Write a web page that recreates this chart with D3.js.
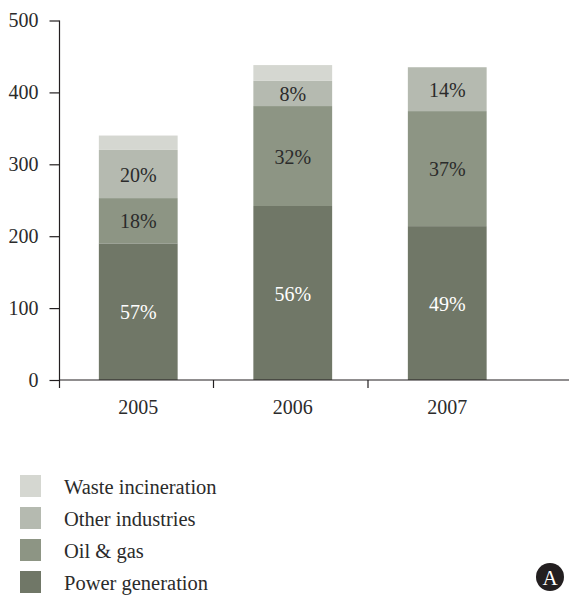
<!DOCTYPE html>
<html>
<head>
<meta charset="utf-8">
<script src="https://cdn.jsdelivr.net/npm/d3@7"></script>
<style>
  body { margin: 0; background: #fff; }
  svg text { font-family: "Liberation Serif", "DejaVu Serif", serif; fill: #2b2b2b; }
  .axis path, .axis line { stroke: #231f20; stroke-width: 1.2; }
</style>
</head>
<body>
<svg id="chart" width="569" height="597"></svg>
<script>
// data (Mt, stacked bottom to top)
const years = ['2005', '2006', '2007'];
const sectors = ['Power generation', 'Oil & gas', 'Other industries', 'Waste incineration'];
const powerGen = [190, 242, 214];
const oilGas = [63, 139, 160];
const otherInd = [67, 35, 61];
const wasteInc = [20, 22, 0];
const shareLabels = [
  ['57%', '56%', '49%'],
  ['18%', '32%', '37%'],
  ['20%', '8%', '14%'],
  ['', '', '']
];
const yTicks = [0, 100, 200, 300, 400, 500];
const colors = ['#707767', '#8d9584', '#b5bab0', '#d5d7d1'];

const series = [powerGen, oilGas, otherInd, wasteInc];
const table = years.map((y, i) => {
  const row = {year: y};
  sectors.forEach((s, k) => row[s] = series[k][i]);
  return row;
});

const svg = d3.select('#chart');
const x0 = 59.5, y0 = 380;
const fontSize = '20px';

const xScale = d3.scaleBand()
    .domain(years)
    .range([x0, 523])
    .paddingInner(0.49)
    .paddingOuter(0.245);

const yScale = d3.scaleLinear()
    .domain([0, 500])
    .range([y0, 20.5]);

const color = d3.scaleOrdinal().domain(sectors).range(colors);

const stacked = d3.stack().keys(sectors)(table);

// bars
const layers = svg.append('g').selectAll('g')
    .data(stacked)
  .join('g')
    .attr('fill', d => color(d.key));

layers.selectAll('rect')
    .data(d => d)
  .join('rect')
    .attr('x', d => xScale(d.data.year) + 1.5)
    .attr('width', xScale.bandwidth())
    .attr('y', d => yScale(d[1]))
    .attr('height', d => yScale(d[0]) - yScale(d[1]));

// percentage labels inside segments
stacked.forEach((layer, k) => {
  svg.append('g').selectAll('text')
      .data(layer)
    .join('text')
      .attr('x', d => xScale(d.data.year) + 1.5 + xScale.bandwidth() / 2)
      .attr('y', d => (yScale(d[0]) + yScale(d[1])) / 2)
      .attr('dy', '0.38em')
      .attr('text-anchor', 'middle')
      .style('font-size', fontSize)
      .style('fill', k === 0 ? '#ffffff' : '#2b2b2b')
      .text((d, i) => shareLabels[k][i]);
});

// y axis
const yAxisG = svg.append('g')
    .attr('class', 'axis')
    .attr('transform', `translate(${x0},0)`)
    .call(d3.axisLeft(yScale).tickValues(yTicks).tickSize(10).tickSizeOuter(0).tickPadding(11));
yAxisG.select('.domain').remove();
yAxisG.append('line')
    .attr('x1', 0).attr('x2', 0)
    .attr('y1', yScale(500)).attr('y2', y0 + 8);
yAxisG.selectAll('text')
    .style('font-size', fontSize)
    .attr('fill', null);

// x axis: line to the right edge, ticks between the bands
const xAxisG = svg.append('g').attr('class', 'axis');
xAxisG.append('line')
    .attr('x1', x0).attr('x2', 569)
    .attr('y1', y0).attr('y2', y0);
xAxisG.selectAll('.tick')
    .data(years.slice(1))
  .join('line')
    .attr('x1', d => xScale(d) - xScale.step() * xScale.paddingInner() / 2 - 0.5)
    .attr('x2', d => xScale(d) - xScale.step() * xScale.paddingInner() / 2 - 0.5)
    .attr('y1', y0).attr('y2', y0 + 8);
xAxisG.selectAll('text')
    .data(years)
  .join('text')
    .attr('x', d => xScale(d) + 1.5 + xScale.bandwidth() / 2)
    .attr('y', 414)
    .attr('text-anchor', 'middle')
    .style('font-size', fontSize)
    .text(d => d);

// legend, top entry is the top layer
const legend = svg.append('g').attr('transform', 'translate(20,475)');
const legendItems = legend.selectAll('g')
    .data(sectors.slice().reverse())
  .join('g')
    .attr('transform', (d, i) => `translate(0,${i * 32})`);
legendItems.append('rect')
    .attr('width', 21)
    .attr('height', 22)
    .attr('fill', d => color(d));
legendItems.append('text')
    .attr('x', 44)
    .attr('y', 11)
    .attr('dy', '0.4em')
    .style('font-size', '20.5px')
    .text(d => d);

// corner badge
const badge = svg.append('g').attr('transform', 'translate(550,577)');
badge.append('circle').attr('r', 14).attr('fill', '#231f20');
badge.append('text')
    .attr('text-anchor', 'middle')
    .attr('dy', '0.36em')
    .style('font-size', '21px')
    .style('fill', '#ffffff')
    .text('A');
</script>
</body>
</html>
